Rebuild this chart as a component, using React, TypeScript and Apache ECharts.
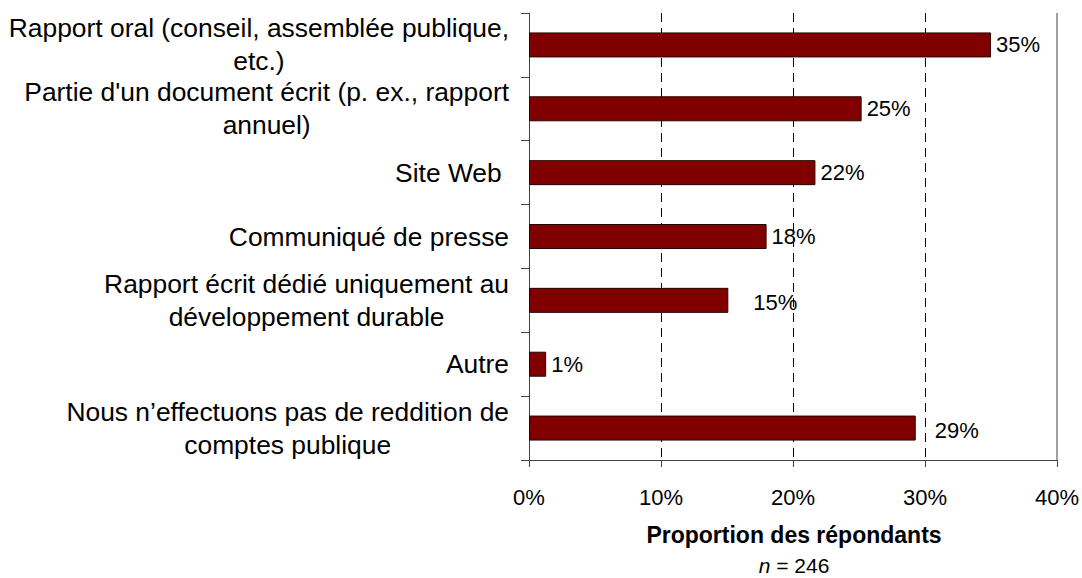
import React, { useEffect, useRef } from "react";
import * as echarts from "echarts";

const categories: string[] = [
  "Rapport oral (conseil, assemblée publique,\netc.)",
  "Partie d'un document écrit (p. ex., rapport\nannuel)",
  "Site Web ",
  "Communiqué de presse",
  "Rapport écrit dédié uniquement au\ndéveloppement durable",
  "Autre",
  "Nous n’effectuons pas de reddition de\ncomptes publique",
];

const values: number[] = [35.0, 25.2, 21.7, 18.0, 15.1, 1.3, 29.3];

const xTicks: number[] = [0, 10, 20, 30, 40];

const axisTitle = "Proportion des répondants";
const sampleNote = "246";

const FONT = "'Liberation Sans', Arial, Helvetica, sans-serif";

export default function App() {
  const ref = useRef<HTMLDivElement>(null);

  useEffect(() => {
    if (!ref.current) return;
    const chart = echarts.init(ref.current, undefined, { renderer: "svg" });

    // label nudges (style only): index -> [dx, dy]
    const nudges: Record<number, [number, number]> = { 4: [20, 2], 6: [14, 2] };

    const seriesData = values.map((v, i) => {
      const n = nudges[i];
      return n ? { value: v, label: { offset: n } } : { value: v };
    });

    const xMax = xTicks[xTicks.length - 1];

    chart.setOption({
      animation: false,
      backgroundColor: "#ffffff",
      grid: { left: 529, right: 25, top: 13, bottom: 118, containLabel: false },
      xAxis: {
        type: "value",
        min: xTicks[0],
        max: xMax,
        interval: 10,
        axisLine: { show: true, lineStyle: { color: "#444", width: 1 } },
        axisTick: { show: true, length: 7, lineStyle: { color: "#444" } },
        axisLabel: {
          formatter: (v: number) => `${v}%`,
          color: "#000",
          fontFamily: FONT,
          fontSize: 22,
          margin: 26,
        },
        splitLine: {
          show: true,
          showMinLine: false,
          showMaxLine: false,
          lineStyle: { color: "#000", width: 1, type: [9, 6] },
        },
      },
      yAxis: {
        type: "category",
        data: categories,
        inverse: true,
        axisLine: { show: true, onZero: false, lineStyle: { color: "#444", width: 1 } },
        axisTick: { show: true, length: 8, lineStyle: { color: "#444" } },
        axisLabel: {
          margin: 20,
          color: "#000",
          formatter: (v: string) =>
            v
              .split("\n")
              .map((l) => `{c|${l}}`)
              .join("\n"),
          rich: {
            c: {
              align: "center",
              fontFamily: FONT,
              fontSize: 26.4,
              lineHeight: 33,
              color: "#000",
            },
          },
        },
        splitLine: { show: false },
      },
      series: [
        {
          type: "bar",
          data: seriesData,
          barWidth: 25,
          clip: false,
          itemStyle: { color: "#800000", borderColor: "#2a0000", borderWidth: 1 },
          label: {
            show: true,
            position: "right",
            distance: 5,
            color: "#000",
            fontFamily: FONT,
            fontSize: 22,
            formatter: (p: any) => `${Math.round(p.value)}%`,
          },
          markLine: {
            silent: true,
            symbol: "none",
            label: { show: false },
            lineStyle: { color: "#808080", width: 1.5, type: "solid" },
            data: [{ xAxis: xMax }],
          },
        },
      ],
      graphic: [
        {
          type: "text",
          x: 794,
          y: 535,
          style: {
            text: axisTitle,
            fontFamily: FONT,
            fontSize: 23,
            fontWeight: "bold",
            fill: "#000",
            align: "center",
            verticalAlign: "middle",
          },
        },
        {
          type: "text",
          x: 794,
          y: 565,
          style: {
            text: `{i|n} = ${sampleNote}`,
            rich: {
              i: { fontStyle: "italic", fontFamily: FONT, fontSize: 21, fill: "#000" },
            },
            fontFamily: FONT,
            fontSize: 21,
            fill: "#000",
            align: "center",
            verticalAlign: "middle",
          },
        },
      ],
    });

    return () => chart.dispose();
  }, []);

  return (
    <div
      ref={ref}
      style={{ position: "fixed", left: 0, top: 0, width: 1082, height: 578 }}
    />
  );
}
